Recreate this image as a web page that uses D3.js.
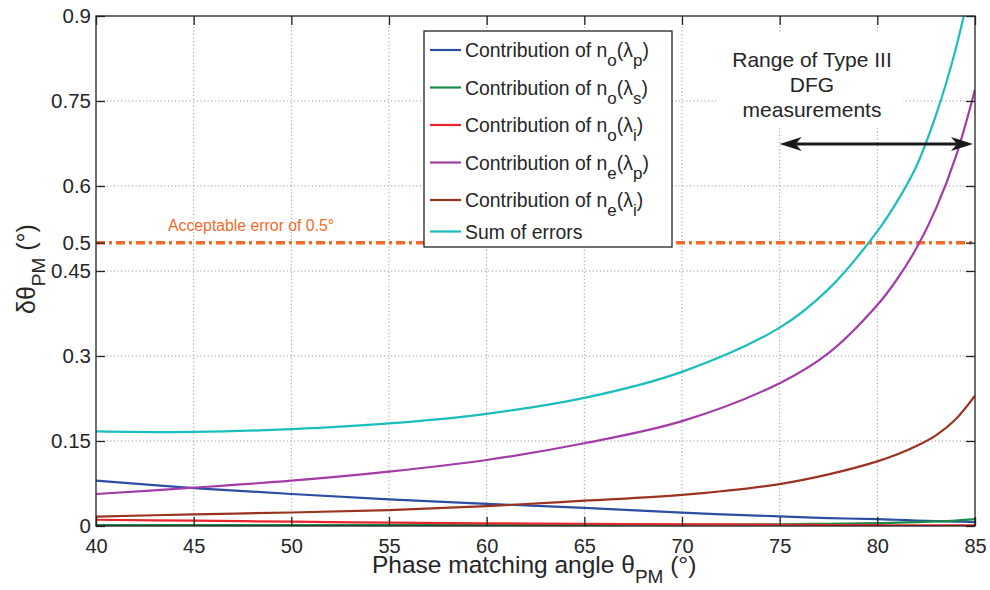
<!DOCTYPE html>
<html><head><meta charset="utf-8">
<script src="https://cdn.jsdelivr.net/npm/d3@7"></script>
<style>body{margin:0;background:#fff}svg{display:block;font-family:"Liberation Sans",Arial,sans-serif}</style>
</head><body><svg id="c" width="990" height="590"></svg>
<script>
// ---- data ----
const angles = [40, 45, 50, 55, 60, 65, 70, 75, 77.5, 80, 81, 82, 83, 84, 85];
const noLp = [0.080, 0.067, 0.0565, 0.047, 0.039, 0.032, 0.0235, 0.017, 0.014, 0.012, 0.011, 0.0095, 0.0085, 0.0078, 0.007];
const noLs = [0.0015, 0.0015, 0.0016, 0.0017, 0.0019, 0.0021, 0.0025, 0.003, 0.004, 0.005, 0.006, 0.007, 0.008, 0.0095, 0.012];
const noLi = [0.011, 0.0094, 0.0076, 0.006, 0.0047, 0.004, 0.003, 0.0022, 0.0018, 0.0015, 0.0013, 0.0012, 0.0011, 0.001, 0.001];
const neLp = [0.0565, 0.0676, 0.080, 0.096, 0.1165, 0.146, 0.185, 0.252, 0.305, 0.39, 0.435, 0.49, 0.56, 0.65, 0.77];
const neLi = [0.0165, 0.0206, 0.0238, 0.028, 0.035, 0.0447, 0.055, 0.074, 0.091, 0.114, 0.126, 0.141, 0.16, 0.188, 0.23];
const sumErr = [0.167, 0.166, 0.171, 0.181, 0.198, 0.226, 0.272, 0.350, 0.418, 0.52, 0.572, 0.635, 0.725, 0.84, 0.99];
const seriesNames = ["Contribution of n_o(λ_p)", "Contribution of n_o(λ_s)", "Contribution of n_o(λ_i)",
                     "Contribution of n_e(λ_p)", "Contribution of n_e(λ_i)", "Sum of errors"];
const seriesColors = ["#2b4ea2", "#1a8a4a", "#e9262b", "#a23ca6", "#9b3322", "#1cbdbd"];
const xTicks = [40, 45, 50, 55, 60, 65, 70, 75, 80, 85];
const yTicks = [0, 0.15, 0.3, 0.45, 0.5, 0.6, 0.75, 0.9];
const yTickLabels = ["0", "0.15", "0.3", "0.45", "0.5", "0.6", "0.75", "0.9"];
const acceptable = 0.5;
const rangeStart = 75, rangeEnd = 85, rangeLevel = 0.674;
const rangeText = ["Range of Type III", "DFG", "measurements"];

// ---- layout ----
const svg = d3.select("#c");
const L = 96, T = 16, R = 975, B = 526;
const x = d3.scaleLinear().domain([40, 85]).range([L, R]);
const y = d3.scaleLinear().domain([0, 0.9]).range([B, T]);
const txt = "#262626";
const FF = "Liberation Sans, Arial, sans-serif";

svg.append("defs").append("clipPath").attr("id", "clip")
  .append("rect").attr("x", L).attr("y", T).attr("width", R - L).attr("height", B - T);

// grid
const grid = svg.append("g").attr("stroke", "#8a8a8a").attr("stroke-width", 1).attr("stroke-dasharray", "1,2.6");
xTicks.slice(1, -1).forEach(v => grid.append("line").attr("x1", x(v)).attr("x2", x(v)).attr("y1", T).attr("y2", B));
yTicks.filter(v => v > 0 && v < 0.9 && v !== 0.5).forEach(v => grid.append("line").attr("x1", L).attr("x2", R).attr("y1", y(v)).attr("y2", y(v)));

// annotation white box (covers grid)
svg.append("rect").attr("x", 717).attr("y", 33).attr("width", 186).attr("height", 95).attr("fill", "#fff");

// acceptable error line
svg.append("line").attr("x1", L).attr("x2", R).attr("y1", y(acceptable)).attr("y2", y(acceptable))
  .attr("stroke", "#f26b2b").attr("stroke-width", 3.5).attr("stroke-dasharray", "9,4,3,4");
svg.append("text").attr("x", 168).attr("y", 231).attr("fill", "#f26b2b").attr("font-size", 15.8)
  .text("Acceptable error of 0.5°");

// curves
const allSeries = [noLp, noLs, noLi, neLp, neLi, sumErr];
const line = d3.line().x((d, i) => x(angles[i])).y(d => y(d)).curve(d3.curveCatmullRom.alpha(0.5));
const cg = svg.append("g").attr("clip-path", "url(#clip)");
allSeries.forEach((s, k) => {
  cg.append("path").attr("d", line(s)).attr("fill", "none").attr("stroke", seriesColors[k]).attr("stroke-width", 2.2);
});

// axes (box + inward ticks)
const axG = svg.append("g").attr("stroke", "#222").attr("stroke-width", 1.3);
axG.append("rect").attr("x", L).attr("y", T).attr("width", R - L).attr("height", B - T).attr("fill", "none");
const xAxis = d3.axisBottom(x).tickValues(xTicks).tickSizeInner(-9).tickSizeOuter(0).tickPadding(13);
const gx = svg.append("g").attr("transform", `translate(0,${B})`).attr("font-size", 20).attr("font-family", FF).call(xAxis);
gx.select(".domain").remove();
gx.selectAll("line").attr("stroke", "#222").attr("stroke-width", 1.3);
gx.selectAll("text").attr("font-size", 20).attr("fill", txt);
const xTop = d3.axisTop(x).tickValues(xTicks).tickSizeInner(-9).tickSizeOuter(0).tickFormat("");
const gxt = svg.append("g").attr("transform", `translate(0,${T})`).call(xTop);
gxt.select(".domain").remove(); gxt.selectAll("line").attr("stroke", "#222").attr("stroke-width", 1.3);
gxt.selectAll("text").remove();

const yAxis = d3.axisLeft(y).tickValues(yTicks).tickSizeInner(-9).tickSizeOuter(0).tickPadding(5)
  .tickFormat((d, i) => yTickLabels[i]);
const gy = svg.append("g").attr("transform", `translate(${L},0)`).attr("font-size", 20.5).attr("font-family", FF).call(yAxis);
gy.select(".domain").remove();
gy.selectAll("line").attr("stroke", "#222").attr("stroke-width", 1.3);
gy.selectAll("text").attr("font-size", 20.5).attr("fill", txt);
const yRight = d3.axisRight(y).tickValues(yTicks).tickSizeInner(-9).tickSizeOuter(0).tickFormat("");
const gyr = svg.append("g").attr("transform", `translate(${R},0)`).call(yRight);
gyr.select(".domain").remove(); gyr.selectAll("line").attr("stroke", "#222").attr("stroke-width", 1.3);
gyr.selectAll("text").remove();

// helper for subscripts
function richText(sel, str, size, subSize, shift) {
  const parts = str.split(/_(.)/);
  let pending = 0;
  parts.forEach((p, i) => {
    if (!p) return;
    if (i % 2 === 1) {
      sel.append("tspan").attr("font-size", subSize).attr("dy", shift + pending).text(p);
      pending = -shift;
    } else {
      sel.append("tspan").attr("font-size", size).attr("dy", pending).text(p);
      pending = 0;
    }
  });
}

// axis labels
const xl = svg.append("text").attr("x", 372).attr("y", 573).attr("fill", txt).attr("font-size", 24.5);
xl.append("tspan").attr("font-size", 24.5).text("Phase matching angle θ");
xl.append("tspan").attr("font-size", 19).attr("dy", 10).text("PM");
xl.append("tspan").attr("font-size", 24.5).attr("dy", -10).text(" (°)");

const yl = svg.append("text").attr("transform", "translate(35,314) rotate(-90)").attr("fill", txt).attr("font-size", 25);
yl.append("tspan").attr("font-size", 25).text("δθ");
yl.append("tspan").attr("font-size", 19).attr("dy", 10).text("PM");
yl.append("tspan").attr("font-size", 25).attr("dy", -10).text(" (°)");

// annotation text
rangeText.forEach((t, i) => {
  svg.append("text").attr("x", 812).attr("y", 67 + i * 25).attr("text-anchor", "middle")
    .attr("fill", txt).attr("font-size", 21).text(t);
});
// double arrow
const ay = y(rangeLevel), ax1 = x(rangeStart), ax2 = x(rangeEnd) - 2;
svg.append("line").attr("x1", ax1 + 10).attr("x2", ax2 - 10).attr("y1", ay).attr("y2", ay)
  .attr("stroke", "#1a1a1a").attr("stroke-width", 3);
svg.append("path").attr("fill", "#1a1a1a")
  .attr("d", `M${ax1},${ay} L${ax1 + 22},${ay - 7} L${ax1 + 16},${ay} L${ax1 + 22},${ay + 7} Z`);
svg.append("path").attr("fill", "#1a1a1a")
  .attr("d", `M${ax2},${ay} L${ax2 - 22},${ay - 7} L${ax2 - 16},${ay} L${ax2 - 22},${ay + 7} Z`);

// legend
const lg = svg.append("g");
lg.append("rect").attr("x", 424).attr("y", 31).attr("width", 248).attr("height", 216)
  .attr("fill", "#fff").attr("stroke", "#222").attr("stroke-width", 1.3);
seriesNames.forEach((name, k) => {
  const cy = k < 5 ? 50 + k * 37.5 : 231.5;
  lg.append("line").attr("x1", 430).attr("x2", 461).attr("y1", cy).attr("y2", cy)
    .attr("stroke", seriesColors[k]).attr("stroke-width", 2.2);
  const t = lg.append("text").attr("x", 465).attr("y", cy + 7).attr("fill", txt).attr("font-size", 19.4);
  richText(t, name, 19.4, 17, 9);
});
</script></body></html>
